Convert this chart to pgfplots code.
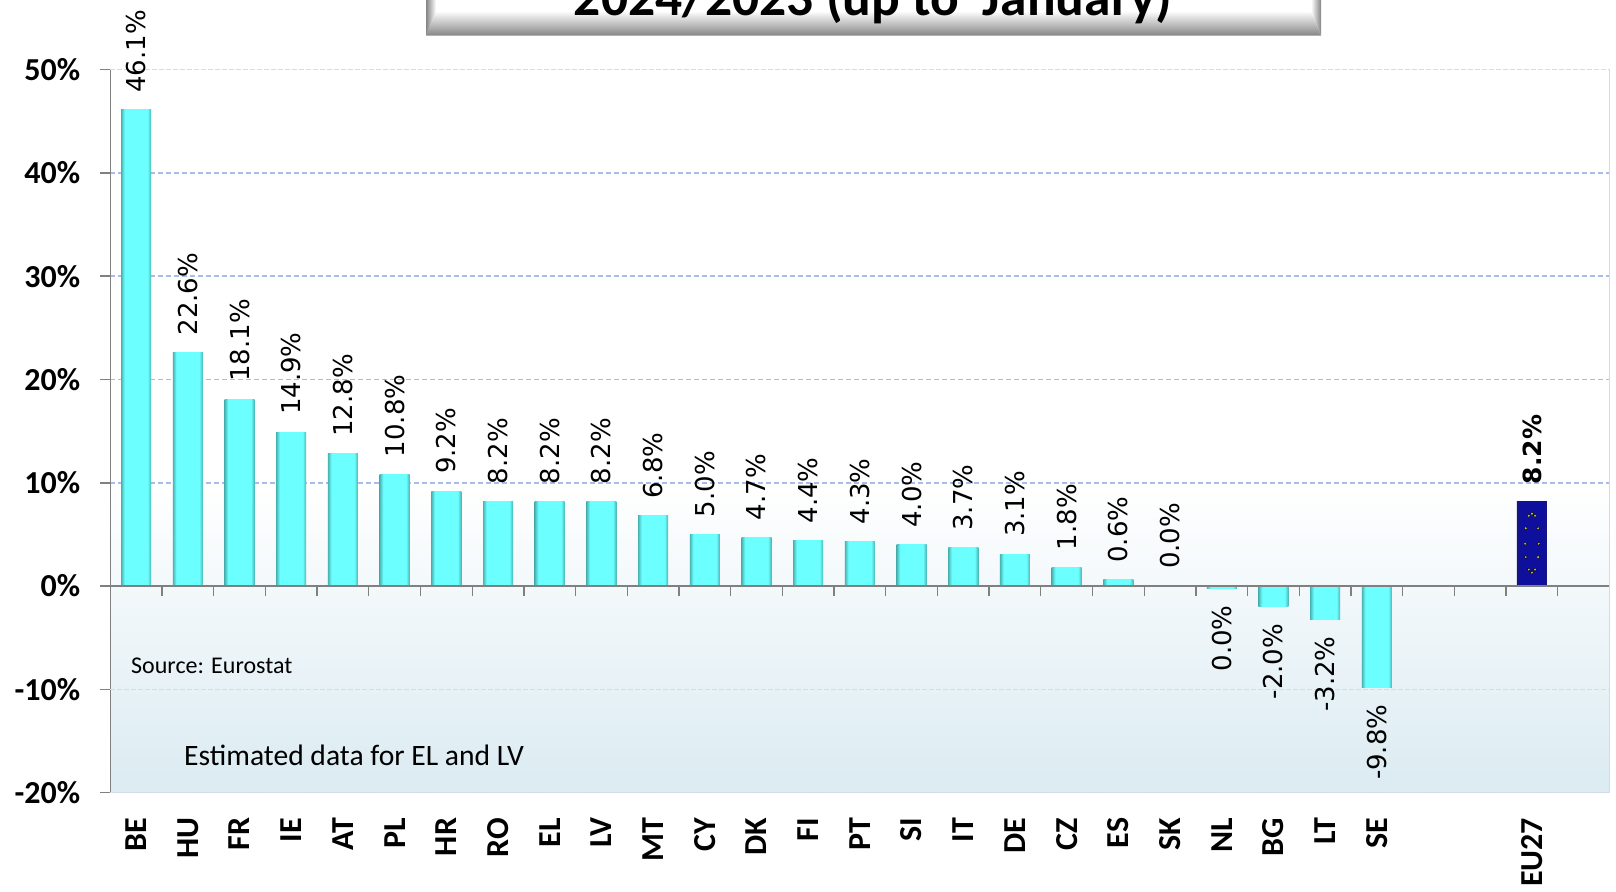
\documentclass[border=0pt]{standalone}
\usepackage{fontspec}
\setmainfont{Carlito}
\newfontfamily\dv{DejaVu Sans}
\usepackage{pgfplots}
\usepackage{pgfplotstable}
\pgfplotsset{compat=1.18}
\definecolor{gridb}{HTML}{A6BCEA}
\definecolor{gridl}{HTML}{D3DCEC}
\definecolor{axg}{HTML}{808080}
\definecolor{bord}{HTML}{DADADA}
\definecolor{c1}{HTML}{DBEBF2}
\pgfdeclareverticalshading{bgshade}{100bp}{color(0bp)=(c1); color(25bp)=(c1); color(46.4bp)=(white); color(100bp)=(white)}
\definecolor{cyE}{HTML}{48B4B4}
\definecolor{cyM}{HTML}{6CFFFF}
\pgfdeclarehorizontalshading{barshade}{100bp}{color(0bp)=(cyE); color(25bp)=(cyE); color(31bp)=(cyM); color(69bp)=(cyM); color(75bp)=(cyE); color(100bp)=(cyE)}
\definecolor{buE}{HTML}{16167C}
\definecolor{buM}{HTML}{0F0F9E}
\pgfdeclarehorizontalshading{blueshade}{100bp}{color(0bp)=(buE); color(25bp)=(buE); color(31bp)=(buM); color(69bp)=(buM); color(75bp)=(buE); color(100bp)=(buE)}
\definecolor{tg}{HTML}{858585}
\pgfdeclarehorizontalshading{sideL}{100bp}{color(0bp)=(tg); color(25bp)=(tg); color(75bp)=(white); color(100bp)=(white)}
\pgfdeclarehorizontalshading{sideR}{100bp}{color(0bp)=(white); color(25bp)=(white); color(75bp)=(tg); color(100bp)=(tg)}
\pgfdeclareverticalshading{sideB}{100bp}{color(0bp)=(tg); color(25bp)=(tg); color(75bp)=(white); color(100bp)=(white)}

\pgfplotstableread{
x y lab
0 46.1 46.1\%
1 22.6 22.6\%
2 18.1 18.1\%
3 14.9 14.9\%
4 12.8 12.8\%
5 10.8 10.8\%
6 9.2 9.2\%
7 8.2 8.2\%
8 8.2 8.2\%
9 8.2 8.2\%
10 6.8 6.8\%
11 5.0 5.0\%
12 4.7 4.7\%
13 4.4 4.4\%
14 4.3 4.3\%
15 4.0 4.0\%
16 3.7 3.7\%
17 3.1 3.1\%
18 1.8 1.8\%
19 0.6 0.6\%
20 0.0 0.0\%
}\pos
\pgfplotstableread{
x y lab
21 -0.2 0.0\%
22 -2.0 -2.0\%
23 -3.2 -3.2\%
24 -9.8 -9.8\%
}\negv
\pgfplotstableread{
x y lab
27 8.2 8.2\%
}\eu
\pgfplotstableread{
x y
26.94 6.8
27.00 7.0
27.06 6.8
26.88 5.6
27.12 5.6
26.87 4.1
27.13 4.1
26.88 2.8
27.12 2.8
26.94 1.6
27.00 1.3
27.06 1.6
}\stars

\begin{document}
\begin{tikzpicture}[x=1pt,y=1pt]
\useasboundingbox (0,0) rectangle (1616,891);
\clip (0,0) rectangle (1616,891);
% title box
\fill[white] (426,855) rectangle (1321,900);
\shade[shading=sideB] (426,855.3) -- (1321,855.3) -- (1311,880) -- (436,880) -- cycle;
\shade[shading=sideL] (426,855.3) -- (436,880) -- (436,900) -- (426,900) -- cycle;
\shade[shading=sideR] (1321,855.3) -- (1311,880) -- (1311,900) -- (1321,900) -- cycle;
\node[font=\bfseries\fontsize{53.5}{53.5}\selectfont,anchor=base] at (873,875.5) {2024/2023 (up to\hspace{0.22em} January)};

\begin{axis}[
  at={(110.3pt,98.3pt)}, anchor=south west,
  scale only axis, width=1499.2pt, height=723.2pt,
  xmin=-0.5, xmax=28.5, ymin=-20, ymax=50,
  clip=false,
  axis y line*=left, axis x line*=bottom,
  x axis line style={draw=bord,line width=1.5pt,-},
  y axis line style={draw=axg,line width=1.5pt,-},
  axis background/.style={shading=bgshade},
  ytick={10,20,30,40},
  yticklabels={10\%,20\%,30\%,40\%},
  extra y ticks={-20,-10,0,50},
  extra y tick labels={-20\%,-10\%,0\%,50\%},
  extra y tick style={grid style={draw=gridl,line width=1.6pt,dash pattern=on 5pt off 2pt}},
  ymajorgrids,
  grid style={draw=gridb,line width=1.5pt,dash pattern=on 5pt off 3pt},
  y tick style={draw=axg,line width=1.5pt},
  major tick length=10pt,
  tick align=outside,
  yticklabel style={font=\bfseries\fontsize{32}{32}\selectfont,inner sep=0pt,xshift=-20pt},
  xtick={0,1,2,3,4,5,6,7,8,9,10,11,12,13,14,15,16,17,18,19,20,21,22,23,24,27},
  xticklabels={BE,HU,FR,IE,AT,PL,HR,RO,EL,LV,MT,CY,DK,FI,PT,SI,IT,DE,CZ,ES,SK,NL,BG,LT,SE,EU27},
  x tick style={draw=none},
  xticklabel style={font=\bfseries\fontsize{32}{32}\selectfont,rotate=90,anchor=east,inner sep=0pt,xshift=-15pt},
  point meta=explicit symbolic,
]
\pgfplotsinvokeforeach{0,...,20}{
\addplot[ybar,bar width=30pt,bar shift=0pt,draw=none,shading=barshade,
  restrict x to domain=#1:#1,
  nodes near coords,
  every node near coord/.append style={font=\dv\fontsize{26}{26}\selectfont,rotate=90,anchor=west,inner sep=0pt,xshift=17pt,text=black}]
  table[x=x,y=y,meta=lab] {\pos};
}
\pgfplotsinvokeforeach{21,...,24}{
\addplot[ybar,bar width=30pt,bar shift=0pt,draw=none,shading=barshade,
  restrict x to domain=#1:#1,
  nodes near coords,
  every node near coord/.append style={font=\dv\fontsize{26}{26}\selectfont,rotate=90,anchor=east,inner sep=0pt,xshift=-17pt,text=black}]
  table[x=x,y=y,meta=lab] {\negv};
}
\addplot[ybar,bar width=30pt,bar shift=0pt,draw=none,shading=blueshade,
  nodes near coords,
  every node near coord/.append style={font=\dv\bfseries\fontsize{25}{25}\selectfont,rotate=90,anchor=west,inner sep=0pt,xshift=17pt,text=black}]
  table[x=x,y=y,meta=lab] {\eu};
\addplot[only marks,mark=*,mark size=1.6pt,mark options={draw=none,fill=yellow!55!gray}]
  table[x=x,y=y] {\stars};
\end{axis}

\begin{axis}[
  at={(110.3pt,98.3pt)}, anchor=south west,
  scale only axis, width=1499.2pt, height=723.2pt,
  xmin=-0.5, xmax=28.5, ymin=-20, ymax=50,
  axis x line=middle, axis y line=right,
  x axis line style={draw=axg,line width=1.8pt,-},
  y axis line style={draw=bord,line width=1.5pt,-},
  ytick=\empty,
  xtick={-0.5,0.5,1.5,2.5,3.5,4.5,5.5,6.5,7.5,8.5,9.5,10.5,11.5,12.5,13.5,14.5,15.5,16.5,17.5,18.5,19.5,20.5,21.5,22.5,23.5,24.5,25.5,26.5,27.5,28.5},
  xticklabels={},
  hide obscured x ticks=false,
  x tick style={draw=axg,line width=1.3pt},
  xtick align=outside,
  major tick length=10pt,
]
\end{axis}

\node[font=\fontsize{24}{24}\selectfont,anchor=west,inner sep=0pt] at (131,225) {Source: Eurostat};
\node[font=\fontsize{29.6}{29.6}\selectfont,anchor=west,inner sep=0pt] at (184,136) {Estimated data for EL and LV};
\end{tikzpicture}
\end{document}
